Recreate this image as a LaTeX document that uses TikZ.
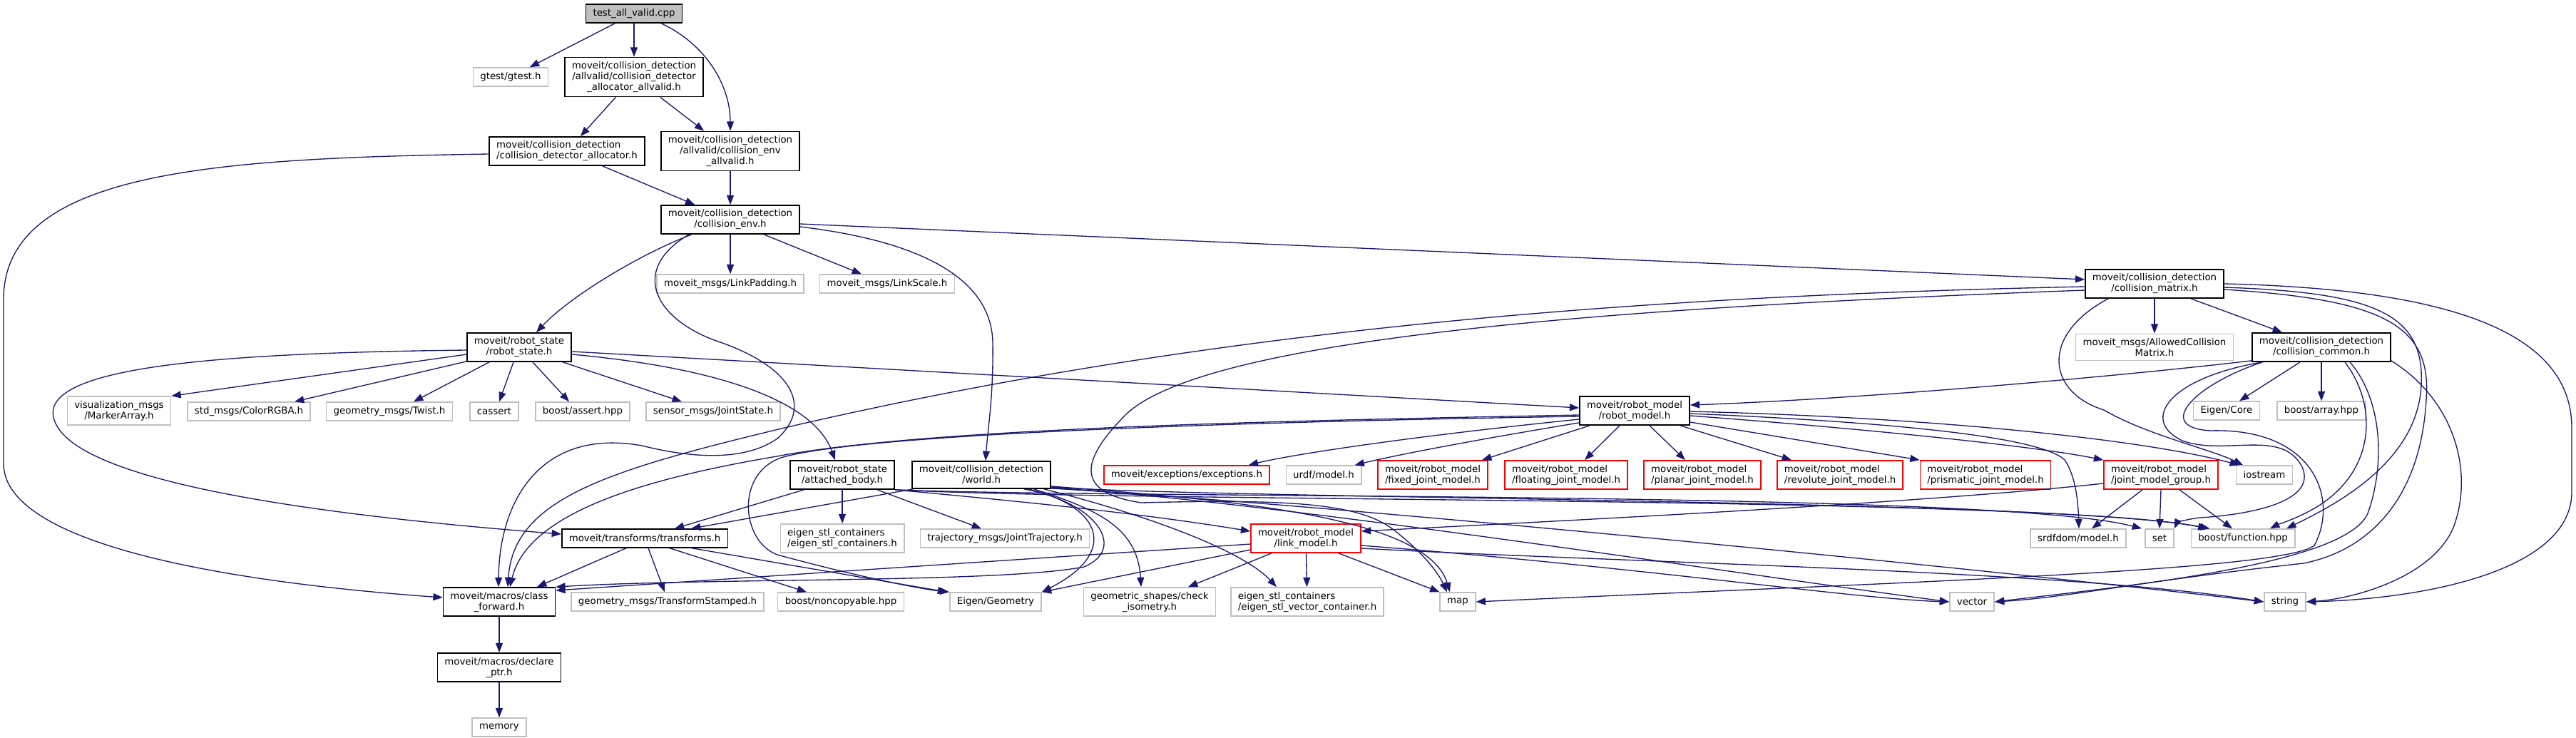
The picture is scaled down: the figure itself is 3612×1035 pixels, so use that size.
\documentclass[tikz,border=0pt]{standalone}
\usepackage{fontspec}
\setmainfont{DejaVu Sans}
\usetikzlibrary{arrows.meta,calc}
\definecolor{edgeblue}{RGB}{25,25,112}
\definecolor{extgray}{RGB}{191,191,191}
\definecolor{truncred}{RGB}{255,0,0}

\begin{document}
\begin{tikzpicture}[
    x=0.75pt, y=-0.75pt,
    every node/.style={font=\fontsize{10pt}{11.25pt}\selectfont, inner xsep=7.5pt, inner ysep=4.5pt, minimum height=19.5pt, align=center},
    box/.style={rectangle, draw=black, line width=1.1pt},
    extbox/.style={rectangle, draw=extgray, line width=1.1pt},
    redbox/.style={rectangle, draw=truncred, line width=1.1pt},
    mainbox/.style={box, fill=extgray},
    arrow/.style={-{Triangle[length=10pt,width=7.5pt]}, color=edgeblue, line width=1pt}
]
    \useasboundingbox (0,0) rectangle (3612,1035);

    % Nodes
    \node[mainbox] (root) at (889,19) {test\_all\_valid.cpp};
    \node[extbox] (gtest) at (716,108) {gtest/gtest.h};
    \node[box] (cdaa) at (889,108) {moveit/collision\_detection\\/allvalid/collision\_detector\\\_allocator\_allvalid.h};
    \node[box, align=left] (cda) at (795,212) {moveit/collision\_detection\\/collision\_detector\_allocator.h};
    \node[box] (ceav) at (1024,212) {moveit/collision\_detection\\/allvalid/collision\_env\\\_allvalid.h};
    \node[box] (cenv) at (1024,308) {moveit/collision\_detection\\/collision\_env.h};
    \node[extbox] (lpad) at (1024,398) {moveit\_msgs/LinkPadding.h};
    \node[extbox] (lscale) at (1244,398) {moveit\_msgs/LinkScale.h};
    \node[box] (cmat) at (3021,398) {moveit/collision\_detection\\/collision\_matrix.h};
    \node[box] (rstate) at (728,487) {moveit/robot\_state\\/robot\_state.h};
    \node[extbox] (acm) at (3021,487) {moveit\_msgs/AllowedCollision\\Matrix.h};
    \node[box] (ccommon) at (3255,487) {moveit/collision\_detection\\/collision\_common.h};
    \node[extbox] (markarr) at (167,576) {visualization\_msgs\\/MarkerArray.h};
    \node[extbox] (colorrgba) at (349,577) {std\_msgs/ColorRGBA.h};
    \node[extbox] (twist) at (546,577) {geometry\_msgs/Twist.h};
    \node[extbox] (cassert) at (693,577) {cassert};
    \node[extbox] (bassert) at (817,577) {boost/assert.hpp};
    \node[extbox] (jstate) at (1000,577) {sensor\_msgs/JointState.h};
    \node[box] (rmodel) at (2292,576) {moveit/robot\_model\\/robot\_model.h};
    \node[extbox] (eigcore) at (3122,576) {Eigen/Core};
    \node[extbox] (barray) at (3255,576) {boost/array.hpp};
    \node[box] (abody) at (1181,666) {moveit/robot\_state\\/attached\_body.h};
    \node[box] (world) at (1376,666) {moveit/collision\_detection\\/world.h};
    \node[redbox] (exc) at (1664,666) {moveit/exceptions/exceptions.h};
    \node[extbox] (urdf) at (1856,666) {urdf/model.h};
    \node[redbox, align=left] (fixedjm) at (2009,666) {moveit/robot\_model\\/fixed\_joint\_model.h};
    \node[redbox, align=left] (floatjm) at (2196,666) {moveit/robot\_model\\/floating\_joint\_model.h};
    \node[redbox, align=left] (planarjm) at (2387,666) {moveit/robot\_model\\/planar\_joint\_model.h};
    \node[redbox, align=left] (revjm) at (2580,666) {moveit/robot\_model\\/revolute\_joint\_model.h};
    \node[redbox, align=left] (prisjm) at (2784,666) {moveit/robot\_model\\/prismatic\_joint\_model.h};
    \node[redbox, align=left] (jmg) at (3030,666) {moveit/robot\_model\\/joint\_model\_group.h};
    \node[extbox] (iostream) at (3175,666) {iostream};
    \node[box] (transforms) at (904,755) {moveit/transforms/transforms.h};
    \node[extbox, align=left] (estlc) at (1181,755) {eigen\_stl\_containers\\/eigen\_stl\_containers.h};
    \node[extbox] (jtraj) at (1409,755) {trajectory\_msgs/JointTrajectory.h};
    \node[redbox] (linkm) at (1831,755) {moveit/robot\_model\\/link\_model.h};
    \node[extbox] (srdf) at (2914,755) {srdfdom/model.h};
    \node[extbox] (set) at (3028,755) {set};
    \node[extbox] (bfunc) at (3145,755) {boost/function.hpp};
    \node[box] (cfwd) at (700,844) {moveit/macros/class\\\_forward.h};
    \node[extbox] (tfstamped) at (936,844) {geometry\_msgs/TransformStamped.h};
    \node[extbox] (noncopy) at (1179,844) {boost/noncopyable.hpp};
    \node[extbox] (eiggeom) at (1396,844) {Eigen/Geometry};
    \node[extbox] (checkiso) at (1612,844) {geometric\_shapes/check\\\_isometry.h};
    \node[extbox, align=left] (estlvec) at (1833,844) {eigen\_stl\_containers\\/eigen\_stl\_vector\_container.h};
    \node[extbox] (map) at (2044,844) {map};
    \node[extbox] (vector) at (2765,844) {vector};
    \node[extbox] (string) at (3204,844) {string};
    \node[box] (declptr) at (700,936) {moveit/macros/declare\\\_ptr.h};
    \node[extbox] (memory) at (700,1020) {memory};

    % Top
    \draw[arrow] (root) -- (gtest);
    \draw[arrow] (root) -- (cdaa);
    \draw[arrow] ($(root.south)+(38,0)$) .. controls (990,62) and (1024,120) .. (ceav.north);
    \draw[arrow] (cdaa) -- (cda);
    \draw[arrow] (cdaa) -- (ceav);
    \draw[arrow] (cda) -- (cenv);
    \draw[arrow] (ceav) -- (cenv);
    \draw[arrow] ($(cda.west)+(0,4)$) .. controls (300,222) and (5,240) .. (5,420) -- (5,650) .. controls (5,760) and (300,815) .. ($(cfwd.west)+(0,-6)$);

    % collision_env.h
    \draw[arrow] (cenv) -- (lpad);
    \draw[arrow] ($(cenv.south)+(47,0)$) -- ($(lscale.north)+(-36,0)$);
    \draw[arrow] ($(cenv.south)+(-54,0)$) .. controls (900,355) and (800,415) .. ($(rstate.north)+(24,0)$);
    \draw[arrow] ($(cenv.east)+(0,6)$) -- ($(cmat.west)+(0,-6)$);
    \draw[arrow] ($(cenv.east)+(0,10)$) .. controls (1290,338) and (1390,390) .. (1392,480) .. controls (1393,560) and (1385,600) .. ($(world.north)+(6,0)$);
    \draw[arrow] ($(cenv.south)+(-58,0)$) .. controls (880,380) and (920,450) .. (1010,480) .. controls (1110,515) and (1140,570) .. (1090,615) .. controls (1040,650) and (960,640) .. (900,625) .. controls (760,600) and (700,700) .. ($(cfwd.north)+(-1,0)$);

    % robot_state.h
    \draw[arrow] ($(rstate.west)+(0,10)$) -- (markarr.north east);
    \draw[arrow] ($(rstate.south west)+(0,-1)$) -- ($(colorrgba.north)+(64,0)$);
    \draw[arrow] ($(rstate.south)+(-42,0)$) -- ($(twist.north)+(34,0)$);
    \draw[arrow] ($(rstate.south)+(-8,0)$) -- ($(cassert.north)+(7,0)$);
    \draw[arrow] ($(rstate.south)+(19,0)$) -- ($(bassert.north)+(-19,0)$);
    \draw[arrow] ($(rstate.south)+(61,0)$) -- ($(jstate.north)+(-44,0)$);
    \draw[arrow] ($(rstate.west)+(0,4)$) .. controls (300,495) and (60,515) .. (75,585) .. controls (95,680) and (480,725) .. ($(transforms.west)+(0,-6)$);
    \draw[arrow] ($(rstate.east)+(0,6)$) -- ($(rmodel.west)+(0,-4)$);
    \draw[arrow] ($(rstate.east)+(0,10)$) .. controls (1000,515) and (1140,560) .. ($(abody.north)+(-10,0)$);

    % collision_matrix.h
    \draw[arrow] (cmat) -- (acm);
    \draw[arrow] ($(cmat.south)+(51,0)$) -- ($(ccommon.north)+(-55,0)$);
    \draw[arrow] ($(cmat.west)+(0,4)$) .. controls (2300,415) and (1700,460) .. (1100,600) .. controls (850,660) and (720,700) .. ($(cfwd.north)+(12,0)$);
    \draw[arrow] ($(cmat.south)+(-65,0)$) .. controls (2860,470) and (2870,550) .. (2950,575) .. controls (3010,610) and (3100,630) .. ($(iostream.north west)+(10,0)$);
    \draw[arrow] ($(cmat.west)+(0,9)$) .. controls (2300,430) and (1700,470) .. (1580,580) .. controls (1520,640) and (1500,690) .. (1600,705) .. controls (1800,700) and (1900,705) .. (1950,740) .. controls (1990,770) and (2015,800) .. ($(map.north)+(-15,0)$);
    \draw[arrow] (cmat.east) .. controls (3420,405) and (3606,460) .. (3606,600) -- (3606,690) .. controls (3606,800) and (3400,840) .. (string.east);
    \draw[arrow] ($(cmat.east)+(0,5)$) .. controls (3330,410) and (3400,440) .. (3395,540) .. controls (3390,650) and (3270,710) .. ($(bfunc.north)+(61,0)$);
    \draw[arrow] ($(cmat.east)+(0,8)$) .. controls (3340,420) and (3410,455) .. (3402,560) .. controls (3395,690) and (3330,770) .. (3230,790) .. controls (3000,815) and (2900,838) .. (vector.east);

    % collision_common.h
    \draw[arrow] ($(ccommon.south west)+(0,-2)$) .. controls (2950,530) and (2600,560) .. ($(rmodel.east)+(0,-8)$);
    \draw[arrow] ($(ccommon.south)+(-30,0)$) -- ($(eigcore.north)+(18,0)$);
    \draw[arrow] (ccommon) -- (barray);
    \draw[arrow] ($(ccommon.south west)+(15,0)$) .. controls (3040,530) and (3000,590) .. (3060,618) .. controls (3120,640) and (3200,600) .. (3228,655) .. controls (3250,705) and (3150,722) .. (3085,726) .. controls (3065,728) and (3052,734) .. (set.north east);
    \draw[arrow] ($(ccommon.south west)+(15,0)$) .. controls (3075,540) and (3020,600) .. (3100,604) .. controls (3245,600) and (3280,700) .. (3245,765) .. controls (3200,800) and (2700,815) .. (map.east);
    \draw[arrow] ($(ccommon.south)+(40,0)$) .. controls (3340,560) and (3345,650) .. (3320,720) .. controls (3290,790) and (3000,820) .. (vector.east);
    \draw[arrow] ($(ccommon.south)+(33,0)$) .. controls (3335,570) and (3330,660) .. (3250,710) .. controls (3220,728) and (3195,735) .. ($(bfunc.north)+(38,0)$);
    \draw[arrow] ($(ccommon.south east)+(0,-2)$) .. controls (3440,560) and (3470,660) .. (3440,740) .. controls (3410,810) and (3300,840) .. (string.east);

    % robot_model.h
    \draw[arrow] ($(rmodel.west)+(0,6)$) .. controls (1800,590) and (1300,600) .. (1089,640) .. controls (900,672) and (740,720) .. ($(cfwd.north)+(15,0)$);
    \draw[arrow] ($(rmodel.west)+(0,8)$) .. controls (1700,592) and (1200,610) .. (1095,642) .. controls (1030,665) and (1040,760) .. (1090,778) .. controls (1200,808) and (1290,826) .. (eiggeom.north west);
    \draw[arrow] ($(rmodel.west)+(0,12)$) .. controls (1950,615) and (1800,640) .. ($(exc.north east)+(-30,0)$);
    \draw[arrow] ($(rmodel.south west)+(0,-4)$) .. controls (2050,620) and (1950,640) .. ($(urdf.north east)+(-10,0)$);
    \draw[arrow] ($(rmodel.south)+(-63,0)$) -- ($(fixedjm.north)+(69,0)$);
    \draw[arrow] ($(rmodel.south)+(-21,0)$) -- ($(floatjm.north)+(26,0)$);
    \draw[arrow] ($(rmodel.south)+(21,0)$) -- ($(planarjm.north)+(-24,0)$);
    \draw[arrow] ($(rmodel.south)+(64,0)$) -- ($(revjm.north)+(-68,0)$);
    \draw[arrow] ($(rmodel.east)+(0,16)$) -- (prisjm.north west);
    \draw[arrow] ($(rmodel.east)+(0,7)$) .. controls (2600,600) and (2850,625) .. (jmg.north west);
    \draw[arrow] ($(rmodel.east)+(0,1)$) .. controls (2700,585) and (3000,615) .. ($(iostream.north west)+(5,0)$);
    \draw[arrow] ($(rmodel.east)+(0,4)$) .. controls (2650,592) and (2860,612) .. (2895,645) .. controls (2912,670) and (2914,710) .. ($(srdf.north)+(1,0)$);

    % attached_body.h
    \draw[arrow] ($(abody.south west)+(20,0)$) -- ($(transforms.north)+(42,0)$);
    \draw[arrow] (abody) -- (estlc);
    \draw[arrow] ($(abody.south)+(49,0)$) -- ($(jtraj.north)+(-33,0)$);
    \draw[arrow] (abody.south east) .. controls (1450,705) and (1600,720) .. ($(linkm.west)+(0,-10)$);
    \draw[arrow] (abody.south east) .. controls (1600,700) and (2800,688) .. ($(set.north west)+(-4,0)$);
    \draw[arrow] (abody.south east) .. controls (1600,705) and (2850,695) .. ($(bfunc.north west)+(27,0)$);

    % world.h
    \draw[arrow] ($(world.south west)+(2,0)$) -- ($(transforms.north)+(65,0)$);
    \draw[arrow] ($(world.south)+(74,0)$) .. controls (1540,715) and (1595,740) .. ($(checkiso.north)+(-12,0)$);
    \draw[arrow] ($(world.south)+(60,0)$) .. controls (1540,705) and (1580,770) .. (1520,795) .. controls (1400,818) and (1000,810) .. (cfwd.north east);
    \draw[arrow] ($(world.south)+(66,0)$) .. controls (1545,710) and (1570,775) .. (eiggeom.north east);
    \draw[arrow] ($(world.south east)+(-10,0)$) .. controls (1600,720) and (1740,770) .. ($(estlvec.north)+(-43,0)$);
    \draw[arrow] ($(world.south east)+(0,-4)$) .. controls (1700,700) and (2000,720) .. ($(map.north)+(-11,0)$);
    \draw[arrow] ($(world.south east)+(0,-2)$) .. controls (1800,705) and (2400,800) .. (vector.west);
    \draw[arrow] ($(world.south east)+(0,-1)$) .. controls (1900,710) and (2800,800) .. (string.west);
    \draw[arrow] ($(world.south east)+(0,-3)$) .. controls (1700,700) and (2900,700) .. ($(bfunc.north west)+(24,0)$);

    % link_model.h
    \draw[arrow] ($(linkm.west)+(0,8)$) -- ($(cfwd.east)+(0,-16)$);
    \draw[arrow] ($(linkm.west)+(0,16)$) -- (eiggeom.north east);
    \draw[arrow] ($(linkm.south)+(-48,0)$) -- ($(checkiso.north)+(54,0)$);
    \draw[arrow] (linkm) -- (estlvec);
    \draw[arrow] ($(linkm.south)+(46,0)$) -- (map.north west);
    \draw[arrow] ($(linkm.east)+(0,10)$) .. controls (2300,795) and (2600,840) .. (vector.west);
    \draw[arrow] ($(linkm.east)+(0,14)$) .. controls (2300,790) and (2900,800) .. (string.west);

    % joint_model_group.h
    \draw[arrow] ($(jmg.west)+(0,12)$) .. controls (2700,705) and (2200,730) .. ($(linkm.east)+(0,-10)$);
    \draw[arrow] ($(jmg.south)+(-26,0)$) -- ($(srdf.north)+(19,0)$);
    \draw[arrow] (jmg.south) -- (set.north);
    \draw[arrow] ($(jmg.south)+(26,0)$) -- ($(bfunc.north)+(-15,0)$);

    % transforms.h
    \draw[arrow] ($(transforms.south)+(-26,0)$) -- ($(cfwd.north)+(53,0)$);
    \draw[arrow] ($(transforms.south)+(5,0)$) -- ($(tfstamped.north)+(-4,0)$);
    \draw[arrow] ($(transforms.south)+(35,0)$) -- ($(noncopy.north)+(-48,0)$);
    \draw[arrow] ($(transforms.south)+(66,0)$) -- ($(eiggeom.north west)+(-3,0)$);

    % macros
    \draw[arrow] (cfwd) -- (declptr);
    \draw[arrow] (declptr) -- (memory);

\end{tikzpicture}
\end{document}
